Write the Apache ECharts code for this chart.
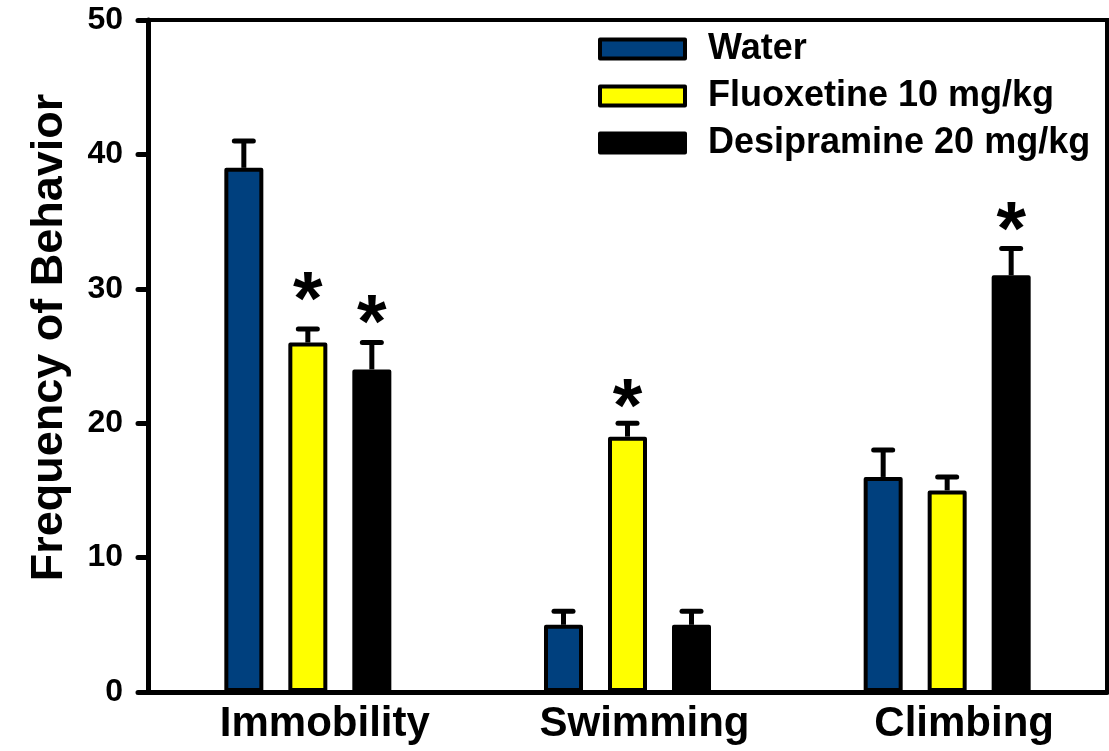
<!DOCTYPE html>
<html>
<head>
<meta charset="utf-8">
<script src="https://cdn.jsdelivr.net/npm/echarts@6/dist/echarts.min.js"></script>
<style>html,body{margin:0;padding:0;background:#fff;}#c{width:1109px;height:751px;}</style>
</head>
<body>
<div id="c"></div>
<script>
const categories = ['Immobility', 'Swimming', 'Climbing'];
const groupNames = ['Water', 'Fluoxetine 10 mg/kg', 'Desipramine 20 mg/kg'];
const waterMean = [39, 5, 16];
const waterErr = [2, 1, 2];
const fluoxMean = [26, 19, 15];
const fluoxErr = [1, 1, 1];
const desipMean = [24, 5, 31];
const desipErr = [2, 1, 2];
// y value (data units) where a significance asterisk is shown; null = none
const waterSig = [null, null, null];
const fluoxSig = [30, 22, null];
const desipSig = [28.3, null, 35.2];
const yTicks = { min: 0, max: 50, interval: 10 };

const colors = ['#00407e', '#ffff00', '#000000'];
const means = [waterMean, fluoxMean, desipMean];
const errs = [waterErr, fluoxErr, desipErr];
const sigs = [waterSig, fluoxSig, desipSig];
const FONT = '"Liberation Sans", Arial, sans-serif';
const BAR_W = 39, BAR_STEP = 64;

const series = [];
groupNames.forEach((name, i) => {
  series.push({
    name: name, type: 'bar', barWidth: BAR_W, barGap: ((BAR_STEP - BAR_W) / BAR_W * 100) + '%',
    data: means[i],
    itemStyle: { color: colors[i], borderColor: '#000', borderWidth: 4, borderJoin: 'round' },
    z: 2
  });
});
groupNames.forEach((name, i) => {
  series.push({
    name: name + ' err', type: 'custom', z: 5,
    data: categories.map((c, k) => [k, means[i][k], errs[i][k], sigs[i][k] == null ? NaN : sigs[i][k]]),
    renderItem: function (params, api) {
      const off = (i - 1) * BAR_STEP;
      const x = api.coord([api.value(0), 0])[0] + off;
      const m = api.value(1), e = api.value(2), s = api.value(3);
      const yTop = api.coord([api.value(0), m])[1];
      const yCap = api.coord([api.value(0), m + e])[1];
      const st = { stroke: '#000', lineWidth: 5, lineCap: 'round' };
      const children = [
        { type: 'line', shape: { x1: x, y1: yTop, x2: x, y2: yCap }, style: { stroke: '#000', lineWidth: 5 } },
        { type: 'line', shape: { x1: x - 9.5, y1: yCap, x2: x + 9.5, y2: yCap }, style: st }
      ];
      if (!isNaN(s)) {
        const ys = api.coord([api.value(0), s])[1];
        children.push({ type: 'text', style: { text: '*', x: x, y: ys + 14, align: 'center', verticalAlign: 'middle', font: 'bold 76px ' + FONT, fill: '#000' } });
      }
      return { type: 'group', children: children };
    }
  });
});

const chart = echarts.init(document.getElementById('c'), null, { renderer: 'canvas' });
chart.setOption({
  animation: false,
  backgroundColor: '#fff',
  grid: { left: 148, right: 2, top: 20, bottom: 59, show: true, borderColor: '#000', borderWidth: 4, backgroundColor: 'transparent' },
  legend: {
    data: groupNames, orient: 'vertical', left: 593, top: 26,
    itemWidth: 85, itemHeight: 19, itemGap: 11,
    icon: 'rect',
    itemStyle: { borderColor: '#000', borderWidth: 4 },
    textStyle: { fontFamily: FONT, fontWeight: 'bold', fontSize: 36, color: '#000', lineHeight: 36, padding: [0, 0, 0, 18] }
  },
  xAxis: {
    type: 'category', data: categories,
    axisLine: { lineStyle: { color: '#000', width: 5 } },
    axisTick: { alignWithLabel: true, length: 10, lineStyle: { color: '#000', width: 4, cap: 'round' } },
    axisLabel: { fontFamily: FONT, fontWeight: 'bold', fontSize: 42, color: '#000', margin: 11, padding: [0, 0, 0, 34] },
    splitLine: { show: false }
  },
  yAxis: {
    type: 'value', min: yTicks.min, max: yTicks.max, interval: yTicks.interval,
    name: 'Frequency of Behavior', nameLocation: 'middle', nameRotate: 90, nameGap: 76,
    nameTextStyle: { fontFamily: FONT, fontWeight: 'bold', fontSize: 45, color: '#000', padding: [0, 0, 0, 37] },
    axisLine: { show: true, lineStyle: { color: '#000', width: 5 } },
    axisTick: { show: true, length: 10, lineStyle: { color: '#000', width: 5, cap: 'round' } },
    axisLabel: { fontFamily: FONT, fontWeight: 'bold', fontSize: 32, color: '#000', margin: 25 },
    splitLine: { show: false }
  },
  series: series
});
</script>
</body>
</html>
